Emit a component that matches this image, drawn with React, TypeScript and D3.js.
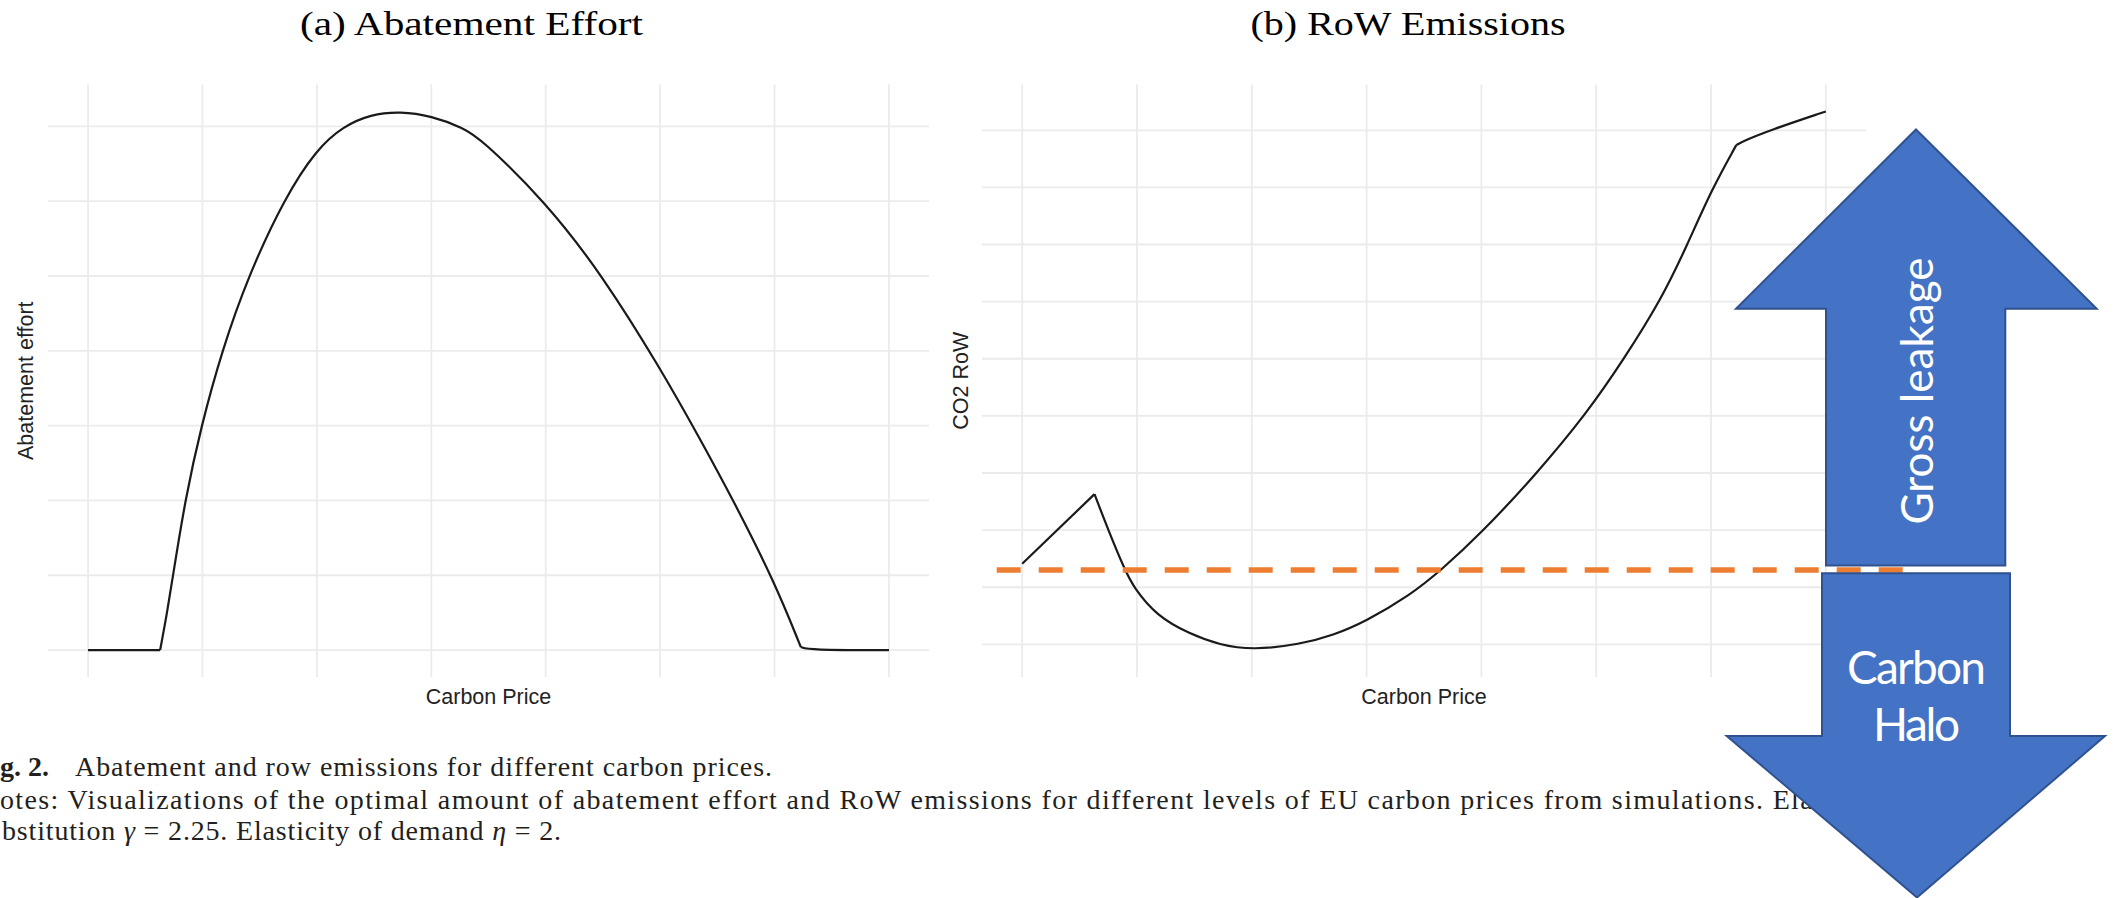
import React from 'react';
import * as d3 from 'd3';

const W = 2113;
const H = 898;

// shared x axis: carbon price (grid breaks only, no tick text in the figure)
const priceBreaks = [0, 10, 20, 30, 40, 50, 60, 70];

// (a) abatement effort
const abatePrice = [0, 6.3, 6.9, 7.45, 8.5, 9.9, 11.7, 14, 17.2, 20, 22.3, 24.7, 27.3, 30, 32.8, 34.3, 40, 45, 50, 53.5, 56.4, 60, 62.3, 63, 70];
const abateEffort = [0, 0, 0.49, 1.02, 2.02, 3.0, 4.0, 5.0, 6.05, 6.7, 7.0, 7.16, 7.2, 7.14, 6.98, 6.84, 5.99, 5.0, 3.77, 2.82, 2.0, 0.91, 0.04, 0, 0];
const abateBreaks = [0, 1, 2, 3, 4, 5, 6, 7];
const abateKinks = [6.3, 62.3];

// (b) RoW emissions
const rowPrice = [0, 6.3, 7.5, 8.95, 9.7, 11.7, 14.6, 17.2, 20.1, 24.2, 27.1, 29.9, 33.8, 36.5, 39.9, 44.7, 49.2, 52.4, 55.7, 57.9, 60.1, 62.2, 62.8, 65.1, 70];
const rowCO2 = [1.41, 2.63, 2.0, 1.3, 1.0, 0.5, 0.18, -0.01, -0.1, 0.0, 0.16, 0.4, 0.86, 1.3, 1.93, 2.96, 4.05, 4.99, 6.05, 6.98, 7.98, 8.74, 8.81, 9.0, 9.33];
const rowBreaks = [0, 1, 2, 3, 4, 5, 6, 7, 8, 9];
const rowKinks = [6.3, 62.2];
const rowBaseline = 1.3; // orange dashed reference level

const panelTitles = ['(a) Abatement Effort', '(b) RoW Emissions'];
const yTitles = ['Abatement effort', 'CO2 RoW'];
const xTitle = 'Carbon Price';
const arrowLabels = ['Gross leakage', 'Carbon', 'Halo'];

const captionBold = 'g. 2.';
const captionLine1 = 'Abatement and row emissions for different carbon prices.';
const captionLine2 = 'otes: Visualizations of the optimal amount of abatement effort and RoW emissions for different levels of EU carbon prices from simulations. Elasticity of';

const GRID = '#ebebeb';
const INK = '#1a1a1a';
const ORANGE = '#ed7d31';
const BLUE = '#4472c4';
const NAVY = '#2f528f';

// ggplot style 5% expansion
const expand = (ext: [number, number]): [number, number] => {
  const d = (ext[1] - ext[0]) * 0.05;
  return [ext[0] - d, ext[1] + d];
};

// split a series at kink prices so the corners stay sharp
const segments = (xs: number[], ys: number[], kinks: number[]) => {
  const pts = xs.map((x, i) => [x, ys[i]] as [number, number]);
  const cuts = [xs[0], ...kinks, xs[xs.length - 1]];
  const out: [number, number][][] = [];
  for (let i = 0; i < cuts.length - 1; i++) {
    out.push(pts.filter((p) => p[0] >= cuts[i] && p[0] <= cuts[i + 1]));
  }
  return out;
};

const panels = [
  { left: 48, right: 929, top: 84.5, bottom: 677, titleX: 471.5, yTitleX: 33, xs: abatePrice, ys: abateEffort, yBreaks: abateBreaks, kinks: abateKinks, titleLen: 343 },
  { left: 982, right: 1866, top: 84.5, bottom: 677, titleX: 1408, yTitleX: 968, xs: rowPrice, ys: rowCO2, yBreaks: rowBreaks, kinks: rowKinks, titleLen: 315 },
];

const Panel = ({ p, i }: { p: typeof panels[number]; i: number }) => {
  const x = d3.scaleLinear().domain(expand(d3.extent(p.xs) as [number, number])).range([p.left, p.right]);
  const y = d3.scaleLinear().domain(expand(d3.extent(p.ys) as [number, number])).range([p.bottom, p.top]);
  const line = d3.line<[number, number]>().x((d) => x(d[0])).y((d) => y(d[1])).curve(d3.curveBasis);
  const cy = (p.top + p.bottom) / 2;
  return (
    <g>
      <text x={p.titleX} y={35} textAnchor="middle" fontFamily="'Liberation Serif', serif" fontSize={34} fill="#000"
        textLength={p.titleLen} lengthAdjust="spacingAndGlyphs">{panelTitles[i]}</text>
      {p.yBreaks.map((b) => (
        <line key={'h' + b} x1={p.left} x2={p.right} y1={y(b)} y2={y(b)} stroke={GRID} strokeWidth={1.8} />
      ))}
      {priceBreaks.map((b) => (
        <line key={'v' + b} x1={x(b)} x2={x(b)} y1={p.top} y2={p.bottom} stroke={GRID} strokeWidth={1.8} />
      ))}
      {segments(p.xs, p.ys, p.kinks).map((s, k) => (
        <path key={k} d={line(s) || ''} fill="none" stroke={INK} strokeWidth={2.2} strokeLinejoin="round" />
      ))}
      <text x={(p.left + p.right) / 2} y={704} textAnchor="middle" fontFamily="'Liberation Sans', Arial, sans-serif"
        fontSize={21.5} fill="#222">{xTitle}</text>
      <text transform={`translate(${p.yTitleX},${cy}) rotate(-90)`} textAnchor="middle"
        fontFamily="'Liberation Sans', Arial, sans-serif" fontSize={21.5} fill="#222">{yTitles[i]}</text>
    </g>
  );
};

const App = () => {
  const pb = panels[1];
  const yRow = d3.scaleLinear().domain(expand(d3.extent(rowCO2) as [number, number])).range([pb.bottom, pb.top]);
  const base = yRow(rowBaseline);

  // annotation arrows (pixel layout)
  const up = [[1916, 129.5], [2096.7, 308.7], [2005.3, 308.7], [2005.3, 565.6], [1826, 565.6], [1826, 308.7], [1736, 308.7]];
  const down = [[1822, 573.3], [2010, 573.3], [2010, 736], [2105, 736], [1917, 897.5], [1726.7, 736], [1822, 736]];
  const poly = (pts: number[][]) => pts.map((q) => q.join(',')).join(' ');

  const capFont = "'Liberation Serif', 'Times New Roman', serif";
  const arrowFont = "Lato, 'Open Sans', sans-serif";

  return (
    <svg width={W} height={H} viewBox={`0 0 ${W} ${H}`} style={{ position: 'absolute', left: 0, top: 0, background: '#fff' }}>
      <rect width={W} height={H} fill="#fff" />
      {panels.map((p, i) => <Panel key={i} p={p} i={i} />)}

      <g fontFamily={capFont} fontSize={28} fill="#231f20">
        <text x={0} y={776} fontWeight="bold">{captionBold}</text>
        <text x={75} y={776} textLength={697} lengthAdjust="spacing">{captionLine1}</text>
        <text x={0} y={809} textLength={1925} lengthAdjust="spacing">{captionLine2}</text>
        <text x={2} y={840} textLength={559} lengthAdjust="spacing">
          bstitution <tspan fontStyle="italic">γ</tspan> = 2.25. Elasticity of demand <tspan fontStyle="italic">η</tspan> = 2.
        </text>
      </g>

      <line x1={996.7} x2={1902.7} y1={base} y2={base} stroke={ORANGE} strokeWidth={5.5} strokeDasharray="24 18" />

      <polygon points={poly(up)} fill={BLUE} stroke={NAVY} strokeWidth={2} strokeLinejoin="miter" />
      <polygon points={poly(down)} fill={BLUE} stroke={NAVY} strokeWidth={2} strokeLinejoin="miter" />
      <text transform="translate(1933,391) rotate(-90)" textAnchor="middle" fontFamily={arrowFont}
        fontSize={44} fill="#fff" textLength={267} lengthAdjust="spacingAndGlyphs">{arrowLabels[0]}</text>
      <text x={1916.5} y={684} textAnchor="middle" fontFamily={arrowFont} fontSize={46} fill="#fff"
        textLength={139} lengthAdjust="spacing">{arrowLabels[1]}</text>
      <text x={1916.5} y={741} textAnchor="middle" fontFamily={arrowFont} fontSize={46} fill="#fff"
        textLength={87} lengthAdjust="spacing">{arrowLabels[2]}</text>
    </svg>
  );
};

export default App;
